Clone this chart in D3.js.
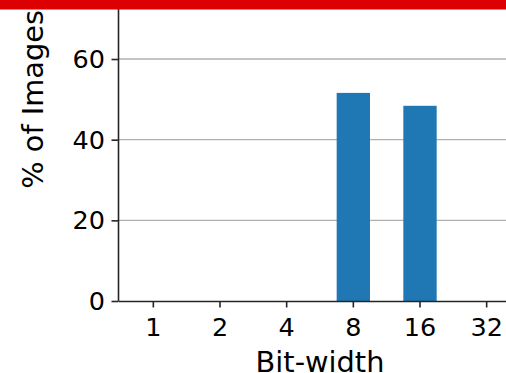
<!DOCTYPE html>
<html>
<head>
<meta charset="utf-8">
<script src="https://cdn.jsdelivr.net/npm/d3@7"></script>
<style>
  html, body { margin: 0; padding: 0; background: #fff; }
  svg { display: block; font-family: "DejaVu Sans", sans-serif; }
</style>
</head>
<body>
<svg id="chart" width="506" height="373"></svg>
<script>
// Share of images per quantisation bit-width
const categories = ["1", "2", "4", "8", "16", "32"];
const percentages = [0, 0, 0, 51.6, 48.4, 0];
const yTicks = [0, 20, 40, 60];
const xLabel = "Bit-width";
const yLabel = "% of Images";

const W = 506, H = 373;
const plotLeft = 118, plotRight = 522, plotBottom = 301, plotTop = -102.3;

const svg = d3.select("#chart");

const x = d3.scaleBand()
  .domain(categories)
  .range([plotLeft, plotRight])
  .paddingInner(0.5)
  .paddingOuter(0.28);

const y = d3.scaleLinear()
  .domain([0, 100])
  .range([plotBottom, plotTop]);

// horizontal grid lines behind the bars
svg.append("g")
  .selectAll("line")
  .data(yTicks.filter(d => d > 0))
  .join("line")
  .attr("x1", plotLeft).attr("x2", W)
  .attr("y1", d => y(d)).attr("y2", d => y(d))
  .attr("stroke", "#b0b0b0")
  .attr("stroke-width", 1.3);

// bars
svg.append("g")
  .selectAll("rect")
  .data(categories.map((c, i) => ({ c, v: percentages[i] })))
  .join("rect")
  .attr("x", d => x(d.c))
  .attr("width", x.bandwidth())
  .attr("y", d => y(d.v))
  .attr("height", d => y(0) - y(d.v))
  .attr("fill", "#1f77b4");

// x axis
const gx = svg.append("g")
  .attr("transform", `translate(0,${plotBottom})`)
  .call(d3.axisBottom(x).tickSize(6.5).tickSizeOuter(0));
gx.select(".domain").attr("stroke", "#262626").attr("stroke-width", 1.6);
gx.selectAll(".tick line").attr("stroke", "#262626").attr("stroke-width", 1.6);
gx.selectAll(".tick text")
  .attr("y", 35).attr("dy", null)
  .attr("font-size", 25.5)
  .attr("font-family", "DejaVu Sans")
  .attr("fill", "#000");

// y axis
const gy = svg.append("g")
  .attr("transform", `translate(${plotLeft},0)`)
  .call(d3.axisLeft(y).tickValues(yTicks).tickSize(6.5).tickSizeOuter(0));
gy.select(".domain").attr("stroke", "#262626").attr("stroke-width", 1.6);
gy.selectAll(".tick line").attr("stroke", "#262626").attr("stroke-width", 1.6);
gy.selectAll(".tick text")
  .attr("x", -13).attr("dy", null).attr("y", 8.5)
  .attr("font-size", 25.5)
  .attr("font-family", "DejaVu Sans")
  .attr("fill", "#000");

// axis titles
svg.append("text")
  .attr("x", (plotLeft + plotRight) / 2)
  .attr("y", 371.5)
  .attr("text-anchor", "middle")
  .attr("font-size", 28.8)
  .attr("fill", "#000")
  .text(xLabel);

svg.append("text")
  .attr("transform", `translate(42.5,${(plotBottom + plotTop) / 2}) rotate(-90)`)
  .attr("text-anchor", "middle")
  .attr("font-size", 28.8)
  .attr("fill", "#000")
  .text(yLabel);

// red banner across the top edge
svg.append("rect")
  .attr("x", 0).attr("y", 0)
  .attr("width", W).attr("height", 9.5)
  .attr("fill", "#dd0000");
</script>
</body>
</html>
